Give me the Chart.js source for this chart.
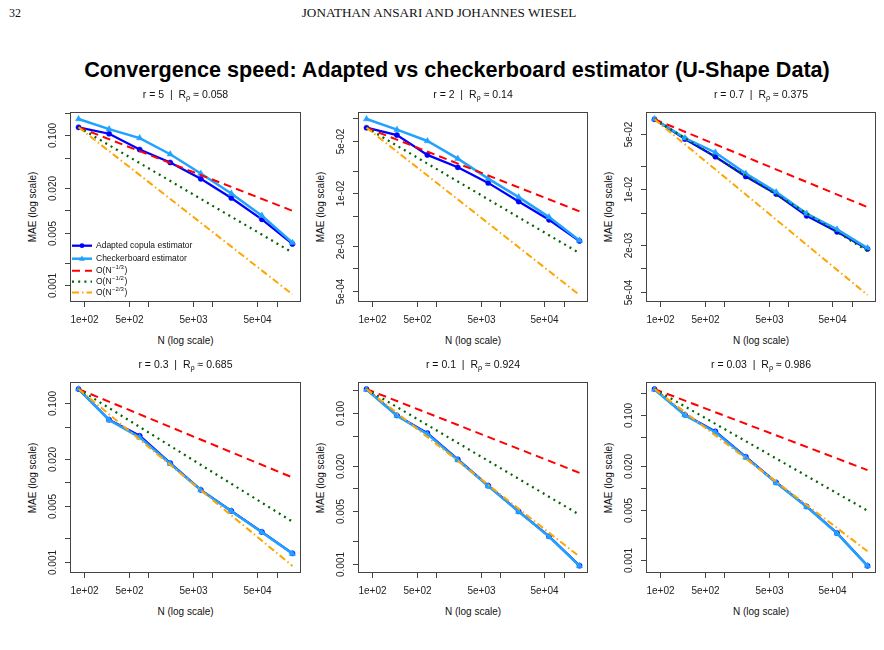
<!DOCTYPE html>
<html lang="en">
<head>
<meta charset="UTF-8">
<title>Convergence speed: Adapted vs checkerboard estimator (U-Shape Data)</title>
<script src="https://cdn.jsdelivr.net/npm/chart.js"></script>
<style>
  body { margin: 0; background: #fff; }
  #page { position: relative; width: 884px; height: 650px; overflow: hidden;
          font-family: "Liberation Sans", Arial, sans-serif; color: #111; }
  .txt { position: absolute; white-space: nowrap; transform: translate(-50%, -50%); }
  .rot { transform: translate(-50%, -50%) rotate(-90deg); }
  canvas { position: absolute; }
  sub { font-size: 70%; vertical-align: -0.25em; }
</style>
</head>
<body>
<div id="page">
  <div class="txt" style="left:15px;top:13px;font-family:'Liberation Serif',serif;font-size:12px;">32</div>
  <div class="txt" style="left:439px;top:13px;font-family:'Liberation Serif',serif;font-size:13.2px;">JONATHAN ANSARI AND JOHANNES WIESEL</div>
  <div class="txt" style="left:457px;top:70px;font-weight:bold;font-size:21.6px;color:#000;">Convergence speed: Adapted vs checkerboard estimator (U-Shape Data)</div>
</div>
<script>
  // sample sizes N (x axis, log scale)
  const sampleSizes = [81, 243, 729, 2187, 6561, 19683, 59049, 177147];

  // panel parameters
  const rValues = ['5', '2', '0.7', '0.3', '0.1', '0.03'];
  const rhoValues = ['0.058', '0.14', '0.375', '0.685', '0.924', '0.986'];

  // MAE of the adapted copula estimator, one row per panel
  const adaptedMAE = [
    [0.128, 0.105, 0.0646, 0.0434, 0.0263, 0.0146, 0.00759, 0.00357],
    [0.0743, 0.0594, 0.0323, 0.0221, 0.0137, 0.00773, 0.00442, 0.00231],
    [0.0775, 0.0435, 0.026, 0.01457, 0.00873, 0.00462, 0.0029, 0.00176],
    [0.150, 0.0616, 0.0387, 0.0175, 0.00807, 0.00438, 0.00238, 0.00128],
    [0.2085, 0.093, 0.0542, 0.0242, 0.01083, 0.00493, 0.0023, 0.000938],
    [0.2254, 0.100, 0.059, 0.0265, 0.01175, 0.0055, 0.00237, 0.000843]
  ];

  // MAE of the checkerboard estimator
  const checkerMAE = [
    [0.165, 0.121, 0.092, 0.056, 0.031, 0.0168, 0.0085, 0.0037],
    [0.097, 0.070, 0.0495, 0.0288, 0.0156, 0.00885, 0.0048, 0.00235],
    [0.078, 0.0447, 0.0294, 0.0159, 0.00925, 0.00494, 0.00311, 0.0018],
    [0.150, 0.0610, 0.0370, 0.0172, 0.00800, 0.00435, 0.00236, 0.00127],
    [0.205, 0.092, 0.0525, 0.0238, 0.0107, 0.0049, 0.00228, 0.00093],
    [0.222, 0.099, 0.0575, 0.026, 0.0116, 0.00545, 0.00235, 0.00084]
  ];

  // reference lines start at the first adapted value, these are their end values
  const refThirdEnd = [0.00986, 0.00573, 0.00597, 0.01156, 0.01607, 0.01738];
  const refHalfEnd = [0.00274, 0.00159, 0.00166, 0.00321, 0.00446, 0.00482];
  const refTwoThirdsEnd = [0.000759, 0.000441, 0.000459, 0.000889, 0.001236, 0.001337];

  // ticks
  const xTickValues = [100, 500, 1000, 5000, 10000, 50000, 100000];
  const xTickLabels = ['1e+02', '5e+02', '', '5e+03', '', '5e+04', ''];
  const yTickValues = [0.0005, 0.001, 0.002, 0.005, 0.01, 0.02, 0.05, 0.1, 0.2];
  const yTickLabelsDec = ['', '0.001', '', '0.005', '', '0.020', '', '0.100', ''];
  const yTickLabelsSci = ['5e-04', '', '2e-03', '', '1e-02', '', '5e-02', '', ''];
  const yLabelStyle = ['dec', 'sci', 'sci', 'dec', 'dec', 'dec'];

  const legendLabels = [
    ['Adapted copula estimator', '', ''],
    ['Checkerboard estimator', '', ''],
    ['O(N', '\u22121/3', ')'],
    ['O(N', '\u22121/2', ')'],
    ['O(N', '\u22122/3', ')']
  ];

  // layout (page pixels)
  const boxLeft = [70, 358, 646];
  const boxWidth = [231, 230, 230];
  const boxTop = [112, 382];
  const boxHeight = [190, 191];

  const seriesStyle = [
    { color: '#0000ff', width: 2.3, dash: [], point: 'circle', r: 2.6, order: 5 },
    { color: '#22a2ff', width: 2.5, dash: [], point: 'triangle', r: 3.6, order: 4 },
    { color: '#ff0000', width: 2, dash: [8, 5], order: 3 },
    { color: '#006400', width: 2.2, dash: [2, 4.2], order: 2 },
    { color: '#ffa500', width: 2, dash: [7, 3, 1.5, 3], order: 1 }
  ];

  const page = document.getElementById('page');

  function addText(html, x, y, style, rotate) {
    const d = document.createElement('div');
    d.className = rotate ? 'txt rot' : 'txt';
    d.style.left = x + 'px';
    d.style.top = y + 'px';
    d.style.cssText += style;
    d.innerHTML = html;
    page.appendChild(d);
  }

  function logRange(vals, frac) {
    const l = vals.map(v => Math.log10(v));
    const lo = Math.min(...l), hi = Math.max(...l);
    const pad = (hi - lo) * frac;
    return [Math.pow(10, lo - pad), Math.pow(10, hi + pad)];
  }

  // R-like box, ticks and tick labels, drawn from the chart's own scales
  const rAxes = {
    id: 'rAxes',
    afterDraw(chart, args, opts) {
      const { ctx, chartArea: a, scales: { x, y } } = chart;
      ctx.save();
      ctx.strokeStyle = '#444';
      ctx.lineWidth = 1;
      ctx.strokeRect(a.left + 0.5, a.top + 0.5, a.right - a.left - 1, a.bottom - a.top - 1);
      ctx.fillStyle = '#222';
      ctx.font = '10px "Liberation Sans", Arial, sans-serif';
      ctx.textAlign = 'center';
      ctx.textBaseline = 'middle';
      ctx.beginPath();
      xTickValues.forEach((v, i) => {
        const px = Math.round(x.getPixelForValue(v)) + 0.5;
        ctx.moveTo(px, a.bottom);
        ctx.lineTo(px, a.bottom + 5);
        if (xTickLabels[i]) ctx.fillText(xTickLabels[i], px, a.bottom + 18);
      });
      const labs = opts.yStyle === 'sci' ? yTickLabelsSci : yTickLabelsDec;
      yTickValues.forEach((v, i) => {
        if (v < y.min || v > y.max) return;
        const py = Math.round(y.getPixelForValue(v)) + 0.5;
        ctx.moveTo(a.left, py);
        ctx.lineTo(a.left - 5, py);
        if (labs[i]) {
          ctx.save();
          ctx.translate(a.left - 17, py);
          ctx.rotate(-Math.PI / 2);
          ctx.fillText(labs[i], 0, 0);
          ctx.restore();
        }
      });
      ctx.stroke();

      if (opts.legend) {
        const ys = [133.7, 146.7, 158.8, 169.7, 180.5];
        ctx.textAlign = 'left';
        legendLabels.forEach((lab, i) => {
          const st = seriesStyle[i];
          const yy = a.top + ys[i];
          ctx.strokeStyle = st.color;
          ctx.lineWidth = st.width;
          ctx.setLineDash(st.dash);
          ctx.beginPath();
          ctx.moveTo(a.left + 2, yy);
          ctx.lineTo(a.left + 22, yy);
          ctx.stroke();
          ctx.setLineDash([]);
          if (st.point) {
            ctx.fillStyle = st.color;
            ctx.beginPath();
            const cx = a.left + 12;
            if (st.point === 'circle') {
              ctx.arc(cx, yy, 2.4, 0, Math.PI * 2);
            } else {
              ctx.moveTo(cx, yy - 3.2);
              ctx.lineTo(cx + 3, yy + 2);
              ctx.lineTo(cx - 3, yy + 2);
              ctx.closePath();
            }
            ctx.fill();
          }
          ctx.fillStyle = '#111';
          let tx = a.left + 26;
          ctx.font = '8.5px "Liberation Sans", Arial, sans-serif';
          ctx.fillText(lab[0], tx, yy);
          if (lab[1]) {
            tx += ctx.measureText(lab[0]).width;
            ctx.font = '6px "Liberation Sans", Arial, sans-serif';
            ctx.fillText(lab[1], tx + 0.5, yy - 3);
            tx += ctx.measureText(lab[1]).width + 1;
            ctx.font = '8.5px "Liberation Sans", Arial, sans-serif';
            ctx.fillText(lab[2], tx, yy);
          }
        });
      }
      ctx.restore();
    }
  };

  const pts = ys => sampleSizes.map((n, k) => ({ x: n, y: ys[k] }));
  const refPts = (start, end) => [
    { x: sampleSizes[0], y: start },
    { x: sampleSizes[sampleSizes.length - 1], y: end }
  ];

  for (let p = 0; p < 6; p++) {
    const row = Math.floor(p / 3), col = p % 3;
    const bl = boxLeft[col], bw = boxWidth[col], bt = boxTop[row], bh = boxHeight[row];
    const padL = 30, padT = 10, padR = 10, padB = 25;

    const cv = document.createElement('canvas');
    cv.width = bw + padL + padR;
    cv.height = bh + padT + padB;
    cv.style.left = (bl - padL) + 'px';
    cv.style.top = (bt - padT) + 'px';
    page.appendChild(cv);

    const cx = bl + bw / 2;
    addText('r = ' + rValues[p] + '&nbsp; |&nbsp; R<sub>\u03c1</sub> \u2248 ' + rhoValues[p],
            cx, bt - 17, 'font-size:10.5px;');
    addText('N (log scale)', cx, bt + bh + 38, 'font-size:10px;');
    addText('MAE (log scale)', bl - 38, bt + bh / 2, 'font-size:10px;', true);

    const series = [
      pts(adaptedMAE[p]),
      pts(checkerMAE[p]),
      refPts(adaptedMAE[p][0], refThirdEnd[p]),
      refPts(adaptedMAE[p][0], refHalfEnd[p]),
      refPts(adaptedMAE[p][0], refTwoThirdsEnd[p])
    ];
    const allY = series.flat().map(d => d.y);
    const [yMin, yMax] = logRange(allY, 0.04);
    const [xMin, xMax] = logRange(sampleSizes, 0.04);

    new Chart(cv.getContext('2d'), {
      type: 'line',
      data: {
        datasets: series.map((data, i) => {
          const st = seriesStyle[i];
          return {
            data: data,
            borderColor: st.color,
            backgroundColor: st.color,
            borderWidth: st.width,
            borderDash: st.dash,
            borderCapStyle: 'butt',
            pointStyle: st.point || 'circle',
            pointRadius: st.point ? st.r : 0,
            pointBackgroundColor: st.color,
            pointBorderColor: st.color,
            pointBorderWidth: 0.5,
            tension: 0,
            fill: false,
            order: st.order
          };
        })
      },
      options: {
        responsive: false,
        animation: false,
        events: [],
        layout: { padding: { left: padL, top: padT, right: padR, bottom: padB } },
        plugins: {
          legend: { display: false },
          tooltip: { enabled: false },
          rAxes: { yStyle: yLabelStyle[p], legend: p === 0 }
        },
        scales: {
          x: { type: 'logarithmic', min: xMin, max: xMax, display: false },
          y: { type: 'logarithmic', min: yMin, max: yMax, display: false }
        }
      },
      plugins: [rAxes]
    });
  }
</script>
</body>
</html>
